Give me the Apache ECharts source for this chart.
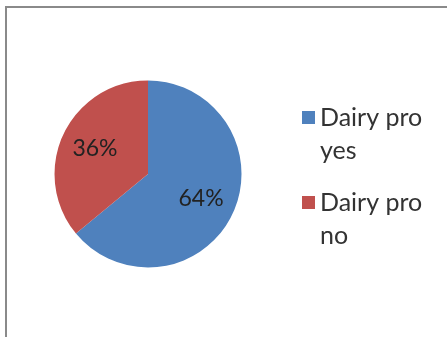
<!DOCTYPE html>
<html>
<head>
<meta charset="utf-8">
<script src="https://cdn.jsdelivr.net/npm/echarts@6/dist/echarts.min.js"></script>
<style>
  html, body { margin: 0; padding: 0; background: #fff; }
  #main { width: 447px; height: 337px; }
</style>
</head>
<body>
<div id="main"></div>
<script>
// 数据
var categories = ['Dairy pro yes', 'Dairy pro no'];
var values = [64, 36];
var colors = ['#4F81BD', '#C0504D'];

var myChart = echarts.init(document.getElementById('main'));
var series_data = [];
for (var i = 0; i < categories.length; i++) {
    series_data.push({ name: categories[i], value: values[i] });
}

var center = [148, 174];
var R = 93.5;
var lineH = 33;

option = {
    animation: false,
    color: colors,
    graphic: [{
        type: 'rect',
        shape: { x: 6, y: 7, width: 500, height: 400 },
        style: { fill: 'none', stroke: '#8a8a8a', lineWidth: 2 },
        silent: true
    }],
    legend: {
        orient: 'vertical',
        left: 302,
        top: 111 - 43,
        padding: 0,
        itemWidth: 13,
        itemHeight: 13,
        itemGap: -14,
        icon: 'rect',
        data: categories,
        // 空行放在前面，让第一行和色块对齐
        formatter: function (name) {
            var k = name.lastIndexOf(' ');
            return ' \n' + name.slice(0, k) + '\n' + name.slice(k + 1);
        },
        textStyle: {
            fontFamily: 'Lato',
            fontSize: 25,
            lineHeight: lineH,
            color: '#333'
        }
    },
    series: [
        {
            type: 'pie',
            center: center,
            radius: [0, R],
            startAngle: 90,
            clockwise: true,
            silent: true,
            label: { show: false },
            labelLine: { show: false },
            data: series_data
        },
        {
            // 只用来放标签
            type: 'pie',
            center: center,
            radius: [0, R * 1.19],
            startAngle: 90,
            clockwise: true,
            silent: true,
            itemStyle: { color: 'rgba(0,0,0,0)' },
            label: {
                show: true,
                position: 'inside',
                formatter: '{c}%',
                fontFamily: 'Lato',
                fontSize: 23,
                color: '#222'
            },
            labelLine: { show: false },
            data: series_data
        }
    ]
};

myChart.setOption(option);
</script>
</body>
</html>
